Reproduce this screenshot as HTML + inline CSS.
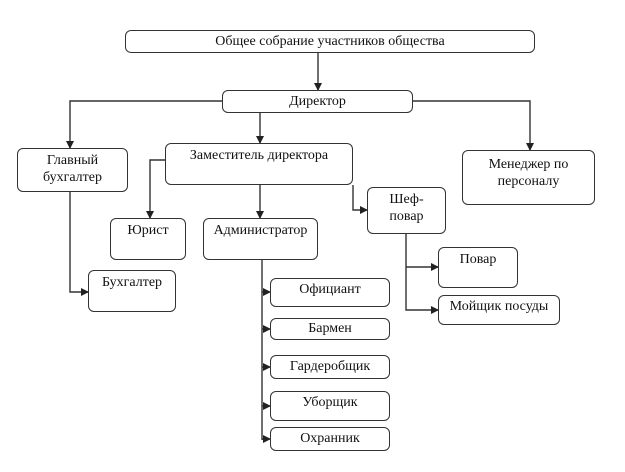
<!DOCTYPE html><html><head><meta charset="utf-8"><style>
body{margin:0;background:#fff;width:625px;height:472px;overflow:hidden;position:relative;font-family:"Liberation Serif",serif;font-size:14px;color:#111}
.b{position:absolute;border:1.3px solid #333;border-radius:6px;box-sizing:border-box;text-align:center;line-height:17px;padding-top:3px;background:#fff}
svg{position:absolute;left:0;top:0}
</style></head><body>
<svg width="625" height="472"><defs><marker id="a" markerWidth="8" markerHeight="8" refX="7" refY="4" orient="auto" markerUnits="userSpaceOnUse"><path d="M0,0 L8,4 L0,8 z" fill="#222"/></marker></defs>
<g stroke="#333" stroke-width="1.4" fill="none">
<path d="M318 53V90" marker-end="url(#a)"/>
<path d="M222 101H70V148" marker-end="url(#a)"/>
<path d="M413 101H530V150" marker-end="url(#a)"/>
<path d="M260 113V143" marker-end="url(#a)"/>
<path d="M165 160H150V218" marker-end="url(#a)"/>
<path d="M260 185V218" marker-end="url(#a)"/>
<path d="M353 185V210H367" marker-end="url(#a)"/>
<path d="M70 192V292H88" marker-end="url(#a)"/>
<path d="M262 260V440"/>
<path d="M262 292H270" marker-end="url(#a)"/>
<path d="M262 329H270" marker-end="url(#a)"/>
<path d="M262 367H270" marker-end="url(#a)"/>
<path d="M262 406H270" marker-end="url(#a)"/>
<path d="M262 439H270" marker-end="url(#a)"/>
<path d="M406 234V310H438" marker-end="url(#a)"/>
<path d="M406 267H438" marker-end="url(#a)"/>
</g></svg>
<div class="b" style="left:125px;top:30px;width:410px;height:23px;padding-top:2px">Общее собрание участников общества</div>
<div class="b" style="left:222px;top:90px;width:191px;height:23px;padding-top:2px">Директор</div>
<div class="b" style="left:17px;top:148px;width:111px;height:44px">Главный<br>бухгалтер</div>
<div class="b" style="left:165px;top:143px;width:188px;height:42px">Заместитель директора</div>
<div class="b" style="left:462px;top:150px;width:133px;height:55px;padding-top:5px">Менеджер по<br>персоналу</div>
<div class="b" style="left:110px;top:218px;width:76px;height:42px">Юрист</div>
<div class="b" style="left:203px;top:218px;width:115px;height:42px">Администратор</div>
<div class="b" style="left:367px;top:187px;width:79px;height:47px">Шеф-<br>повар</div>
<div class="b" style="left:88px;top:270px;width:88px;height:42px">Бухгалтер</div>
<div class="b" style="left:438px;top:247px;width:80px;height:41px">Повар</div>
<div class="b" style="left:438px;top:295px;width:122px;height:30px;padding-top:2px">Мойщик посуды</div>
<div class="b" style="left:270px;top:278px;width:120px;height:29px;padding-top:2px">Официант</div>
<div class="b" style="left:270px;top:318px;width:120px;height:22px;padding-top:1px">Бармен</div>
<div class="b" style="left:270px;top:355px;width:120px;height:24px;padding-top:2px">Гардеробщик</div>
<div class="b" style="left:270px;top:391px;width:120px;height:30px;padding-top:2px">Уборщик</div>
<div class="b" style="left:270px;top:427px;width:120px;height:24px;padding-top:2px">Охранник</div>
</body></html>
